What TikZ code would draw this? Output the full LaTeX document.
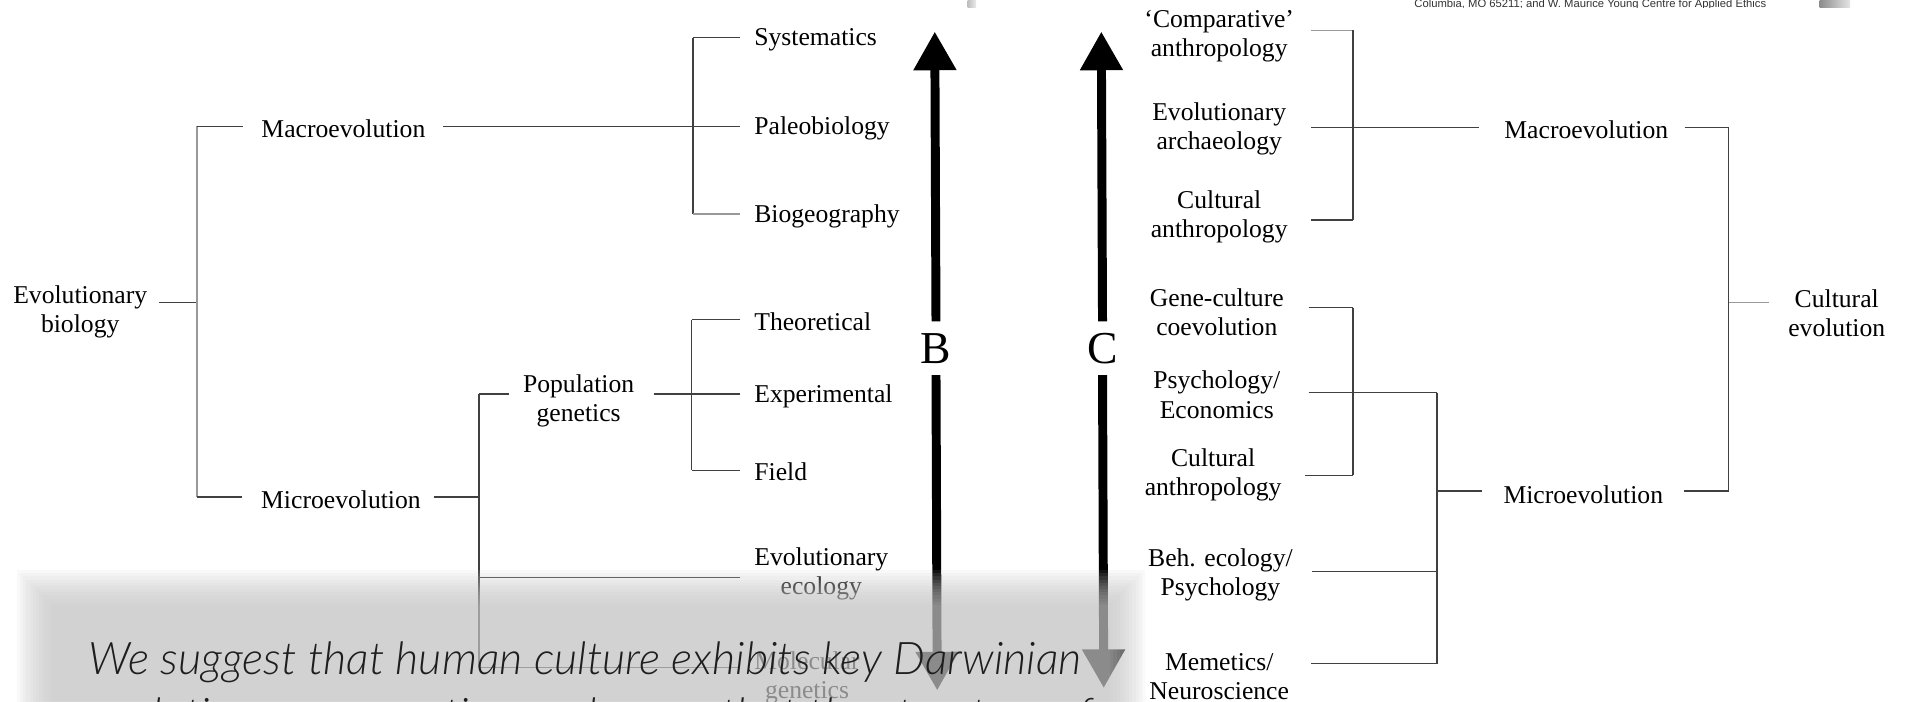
\documentclass[tikz,border=0pt]{standalone}
\usepackage{fontspec}
\setmainfont{Liberation Serif}
\newfontfamily\capfont{Lato Light Italic}
\newfontfamily\addrfont{Liberation Sans}
\usetikzlibrary{arrows.meta,calc}
\definecolor{veil}{HTML}{C5C5C5}
\definecolor{capink}{HTML}{1E1E1E}
\begin{document}
\begin{tikzpicture}[x=0.012156cm,y=-0.012156cm,
  lbl/.style={font=\fontsize{7.3}{8.3}\selectfont, inner sep=0pt, align=center, yshift=-0.6pt},
  leaf/.style={lbl, anchor=west},
  rleaf/.style={lbl, text width=51.9pt},
  link/.style={draw=black!75, line width=0.4pt},
  faint/.style={draw=black!40, line width=0.4pt},
  axis/.style={line width=2.55pt, -{Triangle[width=11.6pt,length=11pt]}},
  axl/.style={font=\fontsize{13}{13}\selectfont, inner sep=0pt, minimum height=14.9pt},
  capt/.style={font=\capfont\fontsize{12.8}{14}\selectfont, text=capink, inner sep=0pt, anchor=base west},
]
\useasboundingbox (0,0) rectangle (1568,577);
\clip (0,0) rectangle (1568,577);
\fill[white] (0,0) rectangle (1568,577);

% ---------- biological evolution (left) ----------
\node[lbl] (ebio) at (66,255) {Evolutionary\\biology};
\node[lbl] (macL) at (282.5,104) {Macroevolution};
\node[lbl] (micL) at (280.5,409) {Microevolution};
\node[lbl] (popg) at (476,328) {Population\\genetics};
\node[leaf] (syst) at (620,31) {Systematics};
\node[leaf] (paleo) at (620,104) {Paleobiology};
\node[leaf] (biog) at (620,176) {Biogeography};
\node[leaf] (theo) at (620,263) {Theoretical};
\node[leaf] (expe) at (620,324) {Experimental};
\node[leaf] (field) at (620,386) {Field};
\node[leaf] (evec) at (620,470.5) {Evolutionary\\ecology};
\node[leaf] (molg) at (620,556) {Molecular\\genetics};

\coordinate (jRoot) at (162,249);
\coordinate (jMacL) at (162,104);
\coordinate (jMicL) at (162,409);
\coordinate (jMacR) at (570,104);
\coordinate (jSys) at (570,31);
\coordinate (jBio) at (570,176);
\coordinate (jMicR) at (394,409);
\coordinate (jPop) at (394,324);
\coordinate (jEvec) at (394,475);
\coordinate (jMol) at (394,549);
\coordinate (jPopR) at (569,324);
\coordinate (jTheo) at (569,263);
\coordinate (jField) at (569,387);

\draw[link] (ebio.east |- jRoot) ++(9,0) -- (jRoot);
\draw[faint] (jMacL) -- (jMicL);
\draw[link] (macL.west |- jMacL) ++(-15,0) -- (jMacL);
\draw[link] (micL.west |- jMicL) ++(-15,0) -- (jMicL);
\draw[link] (macL.east |- jMacR) ++(14,0) -- (jMacR);
\draw[link] (jSys) -- (jBio);
\draw[link] (syst.west |- jSys) ++(-11,0) -- (jSys);
\draw[link] (paleo.west |- jMacR) ++(-11,0) -- (jMacR);
\draw[faint] (biog.west |- jBio) ++(-11,0) -- (jBio);
\draw[link] (micL.east |- jMicR) ++(10,0) -- (jMicR);
\draw[link] (jPop) -- (jMol);
\draw[link] (popg.west |- jPop) ++(-11,0) -- (jPop);
\draw[link] (popg.east |- jPopR) ++(15.5,0) -- (jPopR);
\draw[link] (jTheo) -- (jField);
\draw[link] (theo.west |- jTheo) ++(-11,0) -- (jTheo);
\draw[link] (expe.west |- jPopR) ++(-11,0) -- (jPopR);
\draw[link] (field.west |- jField) ++(-11,0) -- (jField);
\draw[link] (evec.west |- jEvec) ++(-11,0) -- (jEvec);
\draw[link] (molg.west |- jMol) ++(-11,0) -- (jMol);

% ---------- the two axes ----------
\node[axl] (B) at (770,286.5) {B};
\node[axl] (C) at (907,286.5) {C};
\coordinate (Btop) at (769,26);
\coordinate (Bbot) at (771,568);
\coordinate (Ctop) at (906,26);
\coordinate (Cbot) at (908,566);
\draw[axis] (B.north) -- (Btop);
\draw[axis] (B.south) -- (Bbot);
\draw[axis] (C.north) -- (Ctop);
\draw[axis] (C.south) -- (Cbot);

% ---------- cultural evolution (right) ----------
\node[rleaf] (comp) at (1003,28) {`Comparative'\\anthropology};
\node[rleaf] (arch) at (1003,104) {Evolutionary\\archaeology};
\node[rleaf] (canth) at (1003,177) {Cultural\\anthropology};
\node[rleaf] (gene) at (1001,255) {Gene-culture\\coevolution};
\node[rleaf] (psych) at (1001,323) {Psychology/\\Economics};
\node[rleaf] (canthb) at (998,389) {Cultural\\anthropology};
\node[rleaf] (beh) at (1004,471) {Beh.\ ecology/\\Psychology};
\node[rleaf] (meme) at (1003,555) {Memetics/\\Neuroscience};
\node[lbl] (macR) at (1305,105) {Macroevolution};
\node[lbl] (micR) at (1302.5,405) {Microevolution};
\node[lbl] (cevo) at (1511,256) {Cultural\\evolution};

\coordinate (rA1) at (1113,25);
\coordinate (rA2) at (1113,105);
\coordinate (rA3) at (1113,181);
\coordinate (rB1) at (1113,253);
\coordinate (rB3) at (1113,391);
\coordinate (rM1) at (1182,323);
\coordinate (rM2) at (1182,470);
\coordinate (rM3) at (1182,546);
\coordinate (rMj) at (1182,404);
\coordinate (rT1) at (1422,105);
\coordinate (rT2) at (1422,404);
\coordinate (rTj) at (1422,249);

\draw[faint] (comp.east |- rA1) -- (rA1);
\draw[link] (rA1) -- (rA3);
\draw[link] (arch.east |- rA2) -- ($(macR.west |- rA2)+(-20,0)$);
\draw[link] (canth.east |- rA3) -- (rA3);
\draw[link] (gene.east |- rB1) -- (rB1);
\draw[link] (rB1) -- (rB3);
\draw[link] (canthb.east |- rB3) -- (rB3);
\draw[link] (psych.east |- rM1) -- (rM1);
\draw[link] (beh.east |- rM2) -- (rM2);
\draw[link] (meme.east |- rM3) -- (rM3);
\draw[link] (rM1) -- (rM3);
\draw[link] (rMj) -- ($(micR.west |- rMj)+(-17,0)$);
\draw[link] (macR.east |- rT1) ++(13,0) -- (rT1);
\draw[link] (micR.east |- rT2) ++(17,0) -- (rT2);
\draw[link] (rT1) -- (rT2);
\draw[faint] (rTj) -- ($(cevo.west |- rTj)+(-15,0)$);

% ---------- strip of the page above ----------
\shade[left color=black!25, right color=black!8] (796,0) rectangle (803,6);
\shade[left color=black!45, right color=black!10] (1497,0) rectangle (1522,6);
\begin{scope}
  \clip (1150,0) rectangle (1470,6.2);
  \node[font=\addrfont\fontsize{3.2}{3.2}\selectfont, text=black!80, inner sep=0pt, anchor=base west] (addr) at (1163,6.5)
    {Columbia, MO 65211; and W. Maurice Young Centre for Applied Ethics};
\end{scope}

% ---------- translucent caption panel ----------
\foreach \k in {0,...,11}{
  \fill[veil, fill opacity=0.102] ({14+2.6*\k},{469+2.6*\k}) rectangle ({942-2.6*\k},640);
}
\node[capt] (cap1) at (72,555) {We suggest that human culture exhibits key Darwinian};
\node[capt] (cap2) at (72,601) {evolutionary properties, and argue that the structure of};
\end{tikzpicture}
\end{document}
